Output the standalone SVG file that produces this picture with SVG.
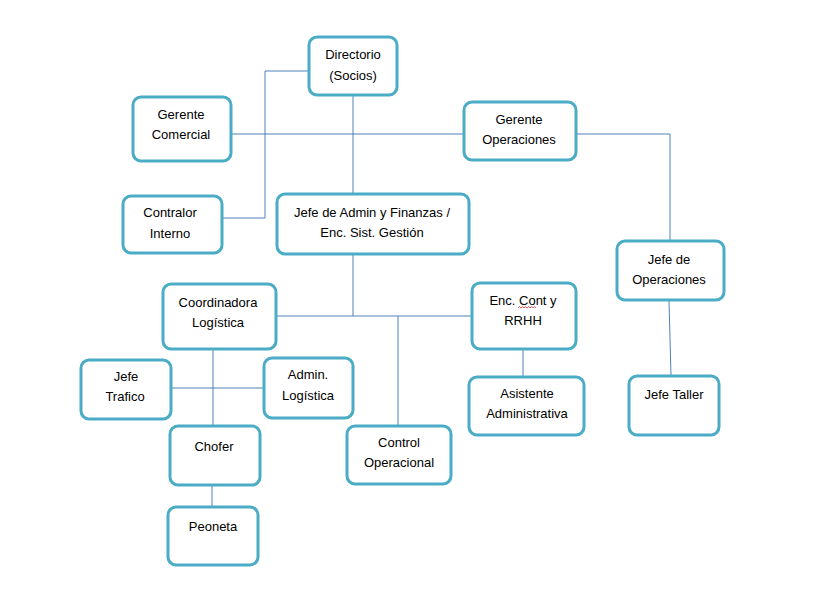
<svg xmlns="http://www.w3.org/2000/svg" width="819" height="605" viewBox="0 0 819 605">
<style>
.box{fill:#fff;stroke:#4BACC6;stroke-width:3}
.ln{fill:none;stroke:#4F81BD;stroke-width:1}
text{font-family:"Liberation Sans",Arial,sans-serif;font-size:13px;fill:#000;text-anchor:middle}
</style>
<rect width="819" height="605" fill="#fff"/>
<g id="connectors">
<path class="ln" d="M353 95V194"/>
<path class="ln" d="M231 134H464"/>
<path class="ln" d="M576 134H670V241"/>
<path class="ln" d="M222 218H265V71H309"/>
<path class="ln" d="M353 254V316"/>
<path class="ln" d="M276 316H472"/>
<path class="ln" d="M398 316V426"/>
<path class="ln" d="M213 349V426"/>
<path class="ln" d="M171 388H264"/>
<path class="ln" d="M212 485V507"/>
<path class="ln" d="M523 349V377"/>
<path class="ln" d="M669 301L671 376"/>
</g>
<g id="directorio"><rect class="box" x="309" y="37" width="88" height="58" rx="8"/><text x="353" y="59">Directorio</text><text x="353" y="80">(Socios)</text></g>
<g id="gerente-comercial"><rect class="box" x="133" y="97" width="98" height="64" rx="8"/><text x="181" y="119">Gerente</text><text x="181" y="139">Comercial</text></g>
<g id="gerente-operaciones"><rect class="box" x="464" y="102" width="112" height="58" rx="8"/><text x="519" y="124">Gerente</text><text x="519" y="144">Operaciones</text></g>
<g id="contralor"><rect class="box" x="123" y="196" width="99" height="57" rx="8"/><text x="170" y="217">Contralor</text><text x="170" y="238">Interno</text></g>
<g id="jefe-admin"><rect class="box" x="277" y="194" width="192" height="60" rx="8"/><text x="372" y="217">Jefe de Admin y Finanzas /</text><text x="372" y="237">Enc. Sist. Gestión</text></g>
<g id="jefe-operaciones"><rect class="box" x="617" y="241" width="107" height="59" rx="8"/><text x="669" y="264">Jefe de</text><text x="669" y="284">Operaciones</text></g>
<g id="coordinadora"><rect class="box" x="163" y="284" width="113" height="65" rx="8"/><text x="218" y="307">Coordinadora</text><text x="218" y="327">Logística</text></g>
<g id="enc-cont"><rect class="box" x="472" y="283" width="104" height="66" rx="8"/><text x="523" y="305">Enc. Cont y</text><text x="523" y="325">RRHH</text><path d="M518 308l1.5-1.5 1.5 1.5 1.5-1.5 1.5 1.5 1.5-1.5 1.5 1.5 1.5-1.5 1.5 1.5 1.5-1.5 1.5 1.5 1.5-1.5 1.5 1.5" fill="none" stroke="#e03030" stroke-width="0.8"/></g>
<g id="jefe-trafico"><rect class="box" x="81" y="360" width="90" height="59" rx="8"/><text x="126" y="381">Jefe</text><text x="125" y="401">Trafico</text></g>
<g id="admin-logistica"><rect class="box" x="264" y="358" width="89" height="60" rx="8"/><text x="308" y="379">Admin.</text><text x="308" y="400">Logística</text></g>
<g id="asistente"><rect class="box" x="469" y="377" width="115" height="58" rx="8"/><text x="527" y="398">Asistente</text><text x="527" y="418">Administrativa</text></g>
<g id="jefe-taller"><rect class="box" x="629" y="376" width="90" height="59" rx="8"/><text x="674" y="399">Jefe Taller</text></g>
<g id="chofer"><rect class="box" x="170" y="426" width="90" height="59" rx="8"/><text x="214" y="451">Chofer</text></g>
<g id="control-operacional"><rect class="box" x="347" y="426" width="104" height="58" rx="8"/><text x="399" y="447">Control</text><text x="399" y="467">Operacional</text></g>
<g id="peoneta"><rect class="box" x="168" y="507" width="90" height="58" rx="8"/><text x="213" y="531">Peoneta</text></g>
</svg>
